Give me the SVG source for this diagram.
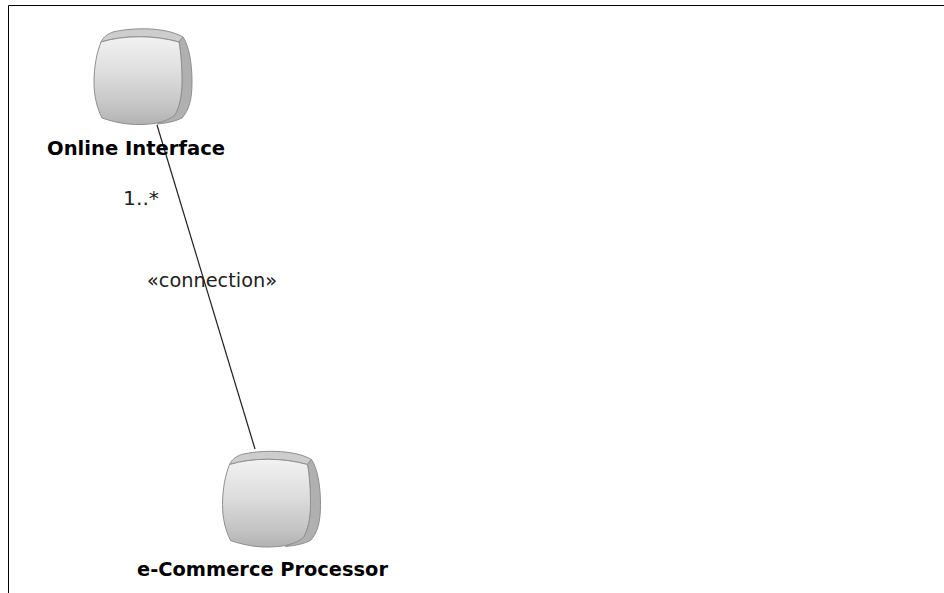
<svg xmlns="http://www.w3.org/2000/svg" width="944" height="593" viewBox="0 0 944 593">
<defs>
<linearGradient id="f" x1="0" y1="0" x2="0" y2="1"><stop offset="0" stop-color="#f2f2f2"/><stop offset="0.4" stop-color="#dedede"/><stop offset="0.8" stop-color="#c4c4c4"/><stop offset="1" stop-color="#b2b2b2"/></linearGradient>
<style>
.out{stroke:#8f8f8f;stroke-width:1;stroke-linejoin:round}
.top{fill:#cdcdcd}.side{fill:#b0b0b0}.face{fill:url(#f)}
.lb{font-family:"DejaVu Sans Condensed","DejaVu Sans",sans-serif;font-size:20px;font-weight:700;fill:#000}
.tx{font-family:"DejaVu Sans Condensed","DejaVu Sans",sans-serif;font-size:20px;fill:#222}
</style>
<g id="device">
<path class="out top" d="M7 14 C10 8 14 6 19 4 C35 0 70 -2 89 9 L85 14 C60 7 30 7 7 14Z"/>
<path class="out side" d="M89 9 C95 18 98 35 98 54 C98 72 95 82 88 90 C82 93 74 95 63 96 L81 87 C85 80 88 68 88 54 C88 40 87 25 85 14Z"/>
<path class="out face" d="M7 14 C30 7 60 7 85 14 C87 25 88 40 88 54 C88 68 85 80 81 87 C75 92 68 94 60 95.500 C42 98 25 96 8 90 C3 80 0 68 0 54 C0 38 3 24 7 14Z"/>
</g>
</defs>
<path d="M8.500 593V5.500H944" fill="none" stroke="#000" stroke-width="1"/>
<g id="connectors"><path d="M157 125L255 449" fill="none" stroke="#222" stroke-width="1.200"/></g>
<g id="online-interface"><use href="#device" x="94" y="28"/><text class="lb" x="47" y="155" textLength="178" lengthAdjust="spacingAndGlyphs">Online Interface</text></g>
<g id="ecommerce-processor"><use href="#device" x="222.500" y="450.500"/><text class="lb" x="137" y="576" textLength="251" lengthAdjust="spacingAndGlyphs">e-Commerce Processor</text></g>
<g id="labels"><text class="tx" x="123" y="205" textLength="36" lengthAdjust="spacingAndGlyphs">1..*</text><text class="tx" x="147" y="287" textLength="130" lengthAdjust="spacingAndGlyphs">«connection»</text></g>
</svg>
